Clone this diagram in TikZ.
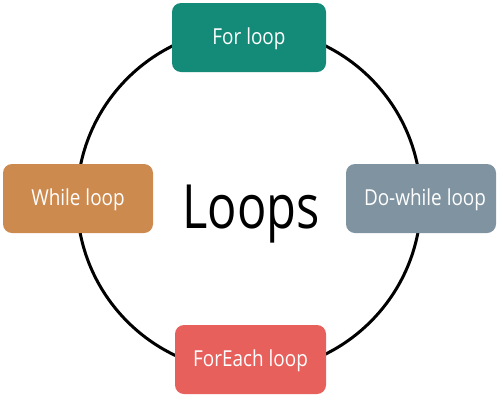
\documentclass[tikz,border=0pt]{standalone}
\usepackage{fontspec}
\usepackage{graphicx}
\setmainfont{Open Sans}
\newcommand\narrowtext[2]{\scalebox{#1}[1]{#2}}
\definecolor{cfor}{HTML}{138B78}
\definecolor{cwhile}{HTML}{CD8A4F}
\definecolor{cdo}{HTML}{7F93A0}
\definecolor{ceach}{HTML}{E8605C}
\begin{document}
\begin{tikzpicture}[x=1pt,y=-1pt,
  loopbox/.style={rectangle, rounded corners=9pt, minimum height=69pt, inner sep=0pt,
    text=white, text height=16pt, text depth=3pt, font=\fontsize{22}{22}\selectfont},
  ring/.style={circle, draw=black, line width=3pt, minimum size=344pt, inner sep=0pt}]
\useasboundingbox (0,0) rectangle (500,400);
\node[ring] (ring) at (249,200) {};
\node[loopbox, fill=cfor, minimum width=154pt] (for) at (249,37.5) {\narrowtext{0.86}{For loop}};
\node[loopbox, fill=cwhile, minimum width=150pt] (while) at (78,198.5) {\narrowtext{0.86}{While loop}};
\node[loopbox, fill=cdo, minimum width=150pt] (do) at (421,198.5) {\hspace{8pt}\narrowtext{0.86}{Do-while loop}};
\node[loopbox, fill=ceach, minimum width=151pt] (each) at (250.5,359.5) {\narrowtext{0.86}{ForEach loop}};
\node[font=\fontsize{61}{61}\selectfont, inner sep=0pt] (title) at (251,214) {\narrowtext{0.80}{Loops}};
\end{tikzpicture}
\end{document}
